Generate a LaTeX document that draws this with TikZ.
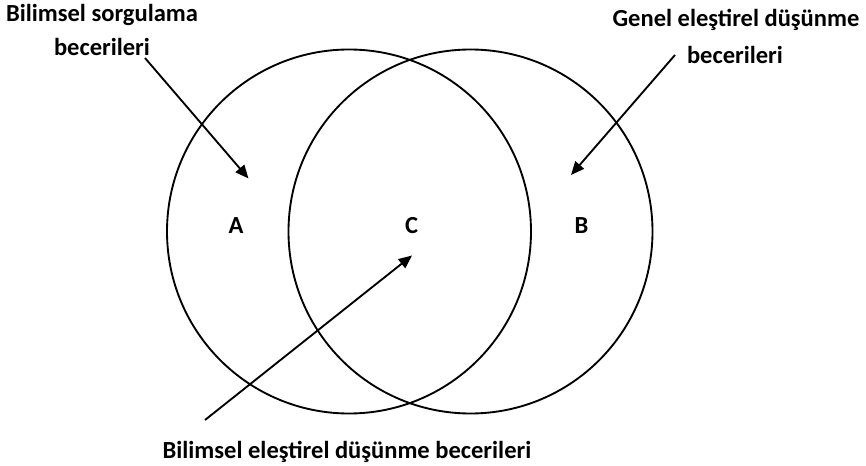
\documentclass[tikz,border=0pt]{standalone}
\usepackage{fontspec}
\setmainfont{Carlito}
\usetikzlibrary{arrows.meta}
\begin{document}
\begin{tikzpicture}[x=0.75pt,y=-0.75pt,
  ring/.style={draw, circle, line width=1.4pt, minimum size=273pt, inner sep=0pt},
  lbl/.style={font=\fontsize{18.4}{24}\selectfont\bfseries, inner sep=0pt, align=center},
  arr/.style={line width=1.4pt, -{Triangle[length=10pt,width=8.5pt]}}]
\useasboundingbox (0,0) rectangle (866,466);
\node[ring] (L) at (349,231.5) {};
\node[ring] (R) at (470.5,231.5) {};
\node[lbl] (A) at (236,226) {A};
\node[lbl] (C) at (411.5,226) {C};
\node[lbl] (B) at (581.5,226) {B};
\node[lbl] (t1a) at (102,15) {Bilimsel sorgulama};
\node[lbl] (t1b) at (102,47) {becerileri};
\node[lbl] (t2a) at (736,20) {Genel eleştirel düşünme};
\node[lbl] (t2b) at (735,55) {becerileri};
\node[lbl] (t3) at (347,451.5) {Bilimsel eleştirel düşünme becerileri};
\coordinate (s1) at (145,58);
\coordinate (e1) at (248.5,178.5);
\coordinate (s2) at (675,55);
\coordinate (e2) at (571,175);
\coordinate (s3) at (205,420);
\coordinate (e3) at (412,255.5);
\draw[arr] (s1) -- (e1);
\draw[arr] (s2) -- (e2);
\draw[arr] (s3) -- (e3);
\end{tikzpicture}
\end{document}
